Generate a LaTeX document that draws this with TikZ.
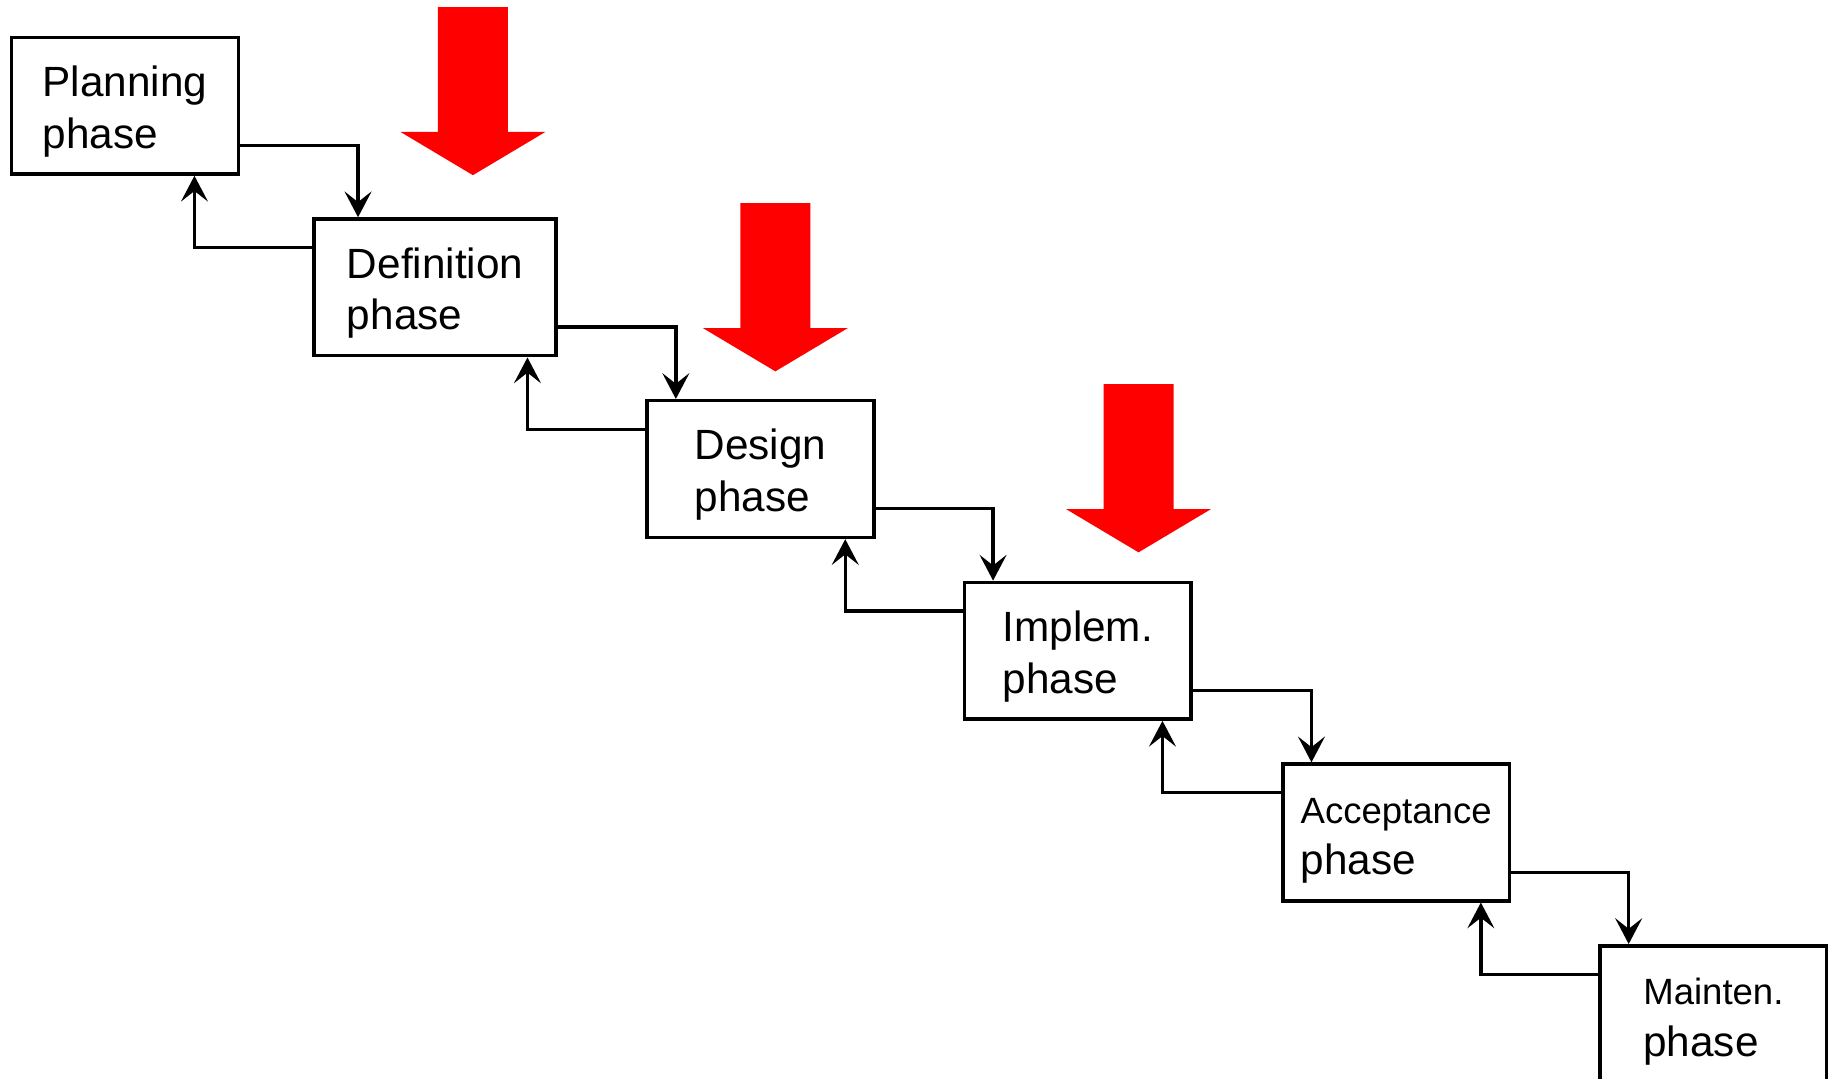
\documentclass[tikz,border=0pt]{standalone}
\usepackage{fontspec}
\setmainfont{Liberation Sans}
\usepackage{tikz}
\usetikzlibrary{arrows.meta}
\usetikzlibrary{positioning}
\newcommand{\tstrut}{\rule{0pt}{10.2pt}}

\begin{document}
\begin{tikzpicture}[x=0.01cm, y=-0.01cm, node distance = 1.555cm]
% Define block styles
\tikzstyle{phase} = [rectangle, draw, line width=0.85pt, fill=white,
    minimum width=1.94cm, minimum height=1.17cm, inner sep=0pt,
    align=left, font=\fontsize{10.3}{12.6}\selectfont]
\tikzstyle{line} = [draw, line width=0.8pt,
    -{Stealth[length=0.22cm, width=0.23cm, inset=0.09cm]}]
\tikzstyle{bigarrow} = [fill=red]
\useasboundingbox (0,0) rectangle (1568,924);

    % Place nodes
    \node [phase] (plan) at (107,90.5) {\tstrut Planning\\phase};
    \node [phase, below of=plan, xshift=2.655cm, minimum width=2.07cm] (def) {\tstrut Definition\\phase};
    \node [phase, below of=def, xshift=2.785cm] (design) {\tstrut Design\\phase};
    \node [phase, below of=design, xshift=2.715cm] (implem) {\tstrut Implem.\\phase};
    \node [phase, below of=implem, xshift=2.725cm] (accept) {\tstrut{\fontsize{8.9}{10.7}\selectfont Acceptance}\\phase};
    \node [phase, below of=accept, xshift=2.715cm] (mainten) {\tstrut{\fontsize{8.9}{10.7}\selectfont Mainten.}\\phase};
    % Red arrows
    \foreach \tx/\ty in {405/150, 664/318, 975/473}
      \path [bigarrow] (\tx-30,\ty-144) -- (\tx+30,\ty-144) -- (\tx+30,\ty-37)
        -- (\tx+62,\ty-37) -- (\tx,\ty) -- (\tx-62,\ty-37) -- (\tx-30,\ty-37) -- cycle;
    % Draw edges
    \path [line] ([yshift=0.26cm]plan.south east) -| ([xshift=0.39cm]def.north west);
    \path [line] ([yshift=-0.26cm]def.north west) -| ([xshift=-0.39cm]plan.south east);
    \path [line] ([yshift=0.26cm]def.south east) -| ([xshift=0.26cm]design.north west);
    \path [line] ([yshift=-0.26cm]design.north west) -| ([xshift=-0.26cm]def.south east);
    \path [line] ([yshift=0.26cm]design.south east) -| ([xshift=0.26cm]implem.north west);
    \path [line] ([yshift=-0.26cm]implem.north west) -| ([xshift=-0.26cm]design.south east);
    \path [line] ([yshift=0.26cm]implem.south east) -| ([xshift=0.26cm]accept.north west);
    \path [line] ([yshift=-0.26cm]accept.north west) -| ([xshift=-0.26cm]implem.south east);
    \path [line] ([yshift=0.26cm]accept.south east) -| ([xshift=0.26cm]mainten.north west);
    \path [line] ([yshift=-0.26cm]mainten.north west) -| ([xshift=-0.26cm]accept.south east);
\end{tikzpicture}
\end{document}
